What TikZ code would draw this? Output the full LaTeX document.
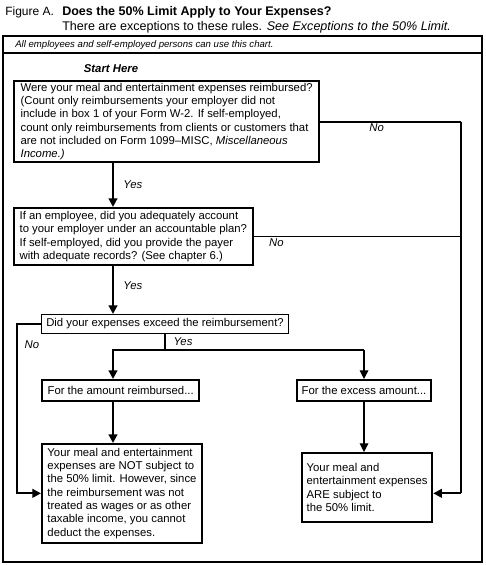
\documentclass[tikz,border=0pt]{standalone}
\usepackage{fontspec}
\setmainfont{Liberation Sans}
\usepackage{tikz}
\usetikzlibrary{arrows.meta}
\newcommand{\chartfont}{\fontsize{8.5}{10}\selectfont}
\tikzset{
    qbox/.style={rectangle, draw=black, line width=1.5pt, anchor=north west, align=left, inner xsep=3.5pt, inner ysep=1.5pt, font=\chartfont},
    thinbox/.style={qbox, line width=0.9pt},
    arrow/.style={line width=1.5pt, -{Triangle[width=6.5pt, length=6.5pt]}},
    thinarrow/.style={arrow, line width=0.8pt},
    link/.style={line width=1.5pt},
    thinlink/.style={line width=0.8pt},
    yesno/.style={font=\chartfont\itshape, inner sep=1pt}
}

\begin{document}
\begin{tikzpicture}[x=0.75pt, y=-0.75pt]
    \useasboundingbox (0,0) rectangle (486,565);
    % heading
    \node (fig) [anchor=west, inner sep=0pt, font=\fontsize{9}{10}\selectfont] at (5,12) {Figure A.};
    \node (title) [anchor=west, inner sep=0pt, font=\fontsize{9.4}{10}\selectfont\bfseries] at (62,12) {Does the 50\% Limit Apply to Your Expenses?};
    \node (subtitle) [anchor=west, inner sep=0pt, font=\fontsize{9.4}{10}\selectfont] at (62,27) {There are exceptions to these rules. \textit{See Exceptions to the 50\% Limit.}};
    % frame of the chart
    \draw [line width=1.5pt] (3,36) rectangle (482,562);
    \draw [line width=1.2pt] (3,53) -- (482,53);
    \node (note) [anchor=west, inner sep=0pt, font=\fontsize{7.2}{9}\selectfont\itshape] at (15,45) {All employees and self-employed persons can use this chart.};

    % guide lines for the connectors
    \coordinate (spine) at (113,0);
    \coordinate (rail) at (461,0);
    \coordinate (wall) at (17,0);
    \coordinate (fork) at (164,350);

    \node (start) [font=\chartfont\bfseries\itshape] at (111,69) {Start Here};
    \node (q1) [qbox, minimum width=229pt] at (13,80) {Were your meal and entertainment expenses reimbursed?\\
        (Count only reimbursements your employer did not\\
        include in box 1 of your Form W-2. If self-employed,\\
        count only reimbursements from clients or customers that\\
        are not included on Form 1099--MISC, \textit{Miscellaneous}\\
        \textit{Income.)}};
    \node (q2) [qbox, minimum width=179pt, minimum height=43pt] at (13,207) {If an employee, did you adequately account\\
        to your employer under an accountable plan?\\
        If self-employed, did you provide the payer\\
        with adequate records? (See chapter 6.)};
    \node (q3) [thinbox, minimum width=184pt, minimum height=14pt] at (41,314) {Did your expenses exceed the reimbursement?};
    \node (a1) [qbox, minimum width=118pt, minimum height=15.5pt] at (41,379) {For the amount reimbursed...};
    \node (a2) [qbox, minimum width=99pt, minimum height=15.5pt] at (296,379) {For the excess amount...};
    \node (r1) [qbox, minimum width=120pt, minimum height=74pt] at (41,443) {Your meal and entertainment\\
        expenses are NOT subject to\\
        the 50\% limit. However, since\\
        the reimbursement was not\\
        treated as wages or as other\\
        taxable income, you cannot\\
        deduct the expenses.};
    \node (r2) [qbox, minimum width=97pt, minimum height=51.5pt] at (301,452) {Your meal and\\
        entertainment expenses\\
        ARE subject to\\
        the 50\% limit.};
    \coordinate (in2) at ([yshift=-4.5pt]r2.east);

    % yes / no connectors
    \draw [arrow] (q1.south -| spine) -- node[yesno, right=6pt] {Yes} (q2.north -| spine);
    \draw [link] (q1.east) -- node[yesno, below, pos=0.4] {No} (q1.east -| rail);
    \draw [thinlink] (q1.east -| rail) -- (in2 -| rail);
    \draw [arrow] (in2 -| rail) -- (in2);
    \draw [thinlink] (q2.east) -- node[yesno, below, pos=0.11] {No} (q2.east -| rail);
    \draw [arrow] (q2.south -| spine) -- node[yesno, right=6pt, pos=0.4] {Yes} (q3.north -| spine);
    \draw [arrow] (q3.west) -- (q3.west -| wall) -- node[yesno, right=4pt, pos=0.12] {No} (r1.west -| wall) -- (r1.west);
    \draw [thinlink] (q3.south) -- node[yesno, right=5pt] {Yes} (q3.south |- fork);
    \draw [arrow] (fork -| a2.north) -- (fork -| spine) -- (a1.north -| spine);
    \draw [thinarrow] (fork -| a2.north) -- (a2.north);
    \draw [arrow] (a1.south -| spine) -- (r1.north -| spine);
    \draw [thinarrow] (a2.south) -- (r2.north -| a2.south);
\end{tikzpicture}
\end{document}
